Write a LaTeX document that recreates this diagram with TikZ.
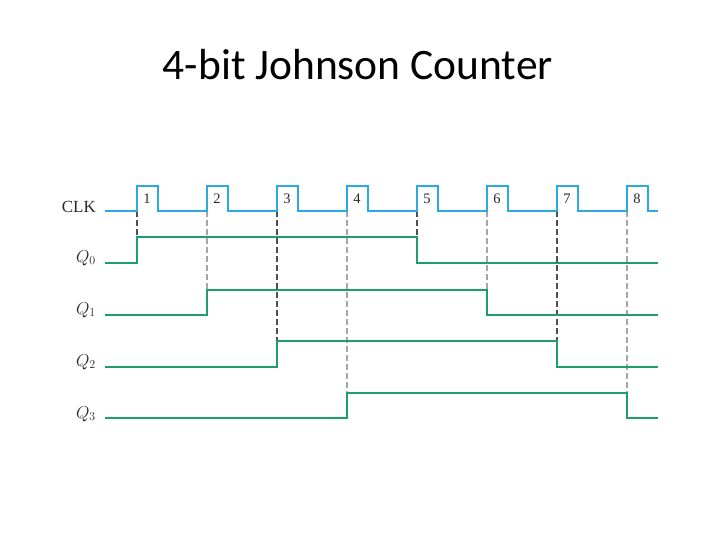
\documentclass[tikz,border=0pt]{standalone}
\usepackage{fontspec}
\setmainfont{Liberation Serif}
\newfontfamily\titlefont{Carlito}
\begin{document}
\begin{tikzpicture}[x=1pt,y=-1pt,
  clk/.style={draw={rgb,255:red,43;green,170;blue,224},line width=2.4pt,line join=miter},
  sig/.style={draw={rgb,255:red,30;green,158;blue,106},line width=2.4pt,line join=miter},
  darkdash/.style={draw={rgb,255:red,80;green,80;blue,80},line width=1.1pt,dash pattern=on 6pt off 3pt},
  lightdash/.style={draw={rgb,255:red,165;green,165;blue,165},line width=1.1pt,dash pattern=on 6pt off 3pt},
  lbl/.style={anchor=base east,inner sep=0pt,text={rgb,255:red,40;green,40;blue,40},font=\fontsize{17}{20}\selectfont},
  num/.style={anchor=base,inner sep=0pt,text={rgb,255:red,40;green,40;blue,40},font=\fontsize{14.5}{16}\selectfont}]
\useasboundingbox (0,0) rectangle (720,540);
\node[anchor=base,inner sep=0pt,font=\titlefont\fontsize{43.5}{48}\selectfont] (title) at (358,80) {4-bit Johnson Counter};
% labels
\node[lbl] (lclk) at (96,212) {CLK};
\node[lbl] (lq0) at (96,262) {$Q_0$};
\node[lbl] (lq1) at (96,314) {$Q_1$};
\node[lbl] (lq2) at (96,366) {$Q_2$};
\node[lbl] (lq3) at (96,418) {$Q_3$};
% edge coordinates
\foreach \i/\x in {1/137,2/207,3/277,4/347,5/417,6/487,7/557,8/627}{
  \coordinate (e\i) at (\x,211);
  \node[num] (n\i) at (\x+10,204) {\i};
}
% dashed guides
\draw[darkdash] (e1) -- (137,237);
\draw[lightdash] (e2) -- (207,290);
\draw[darkdash] (e3) -- (277,341);
\draw[lightdash] (e4) -- (347,393);
\draw[darkdash] (e5) -- (417,237);
\draw[lightdash] (e6) -- (487,290);
\draw[darkdash] (e7) -- (557,341);
\draw[lightdash] (e8) -- (627,393);
% clock
\draw[clk] (105,211)
  \foreach \x in {137,207,277,347,417,487,557,627}{ -- (\x,211) -- (\x,186) -- (\x+21,186) -- (\x+21,211)} -- (658,211);
% Q0
\draw[sig] (105,263) -- (137,263) -- (137,237) -- (417,237) -- (417,263) -- (658,263);
% Q1
\draw[sig] (105,315) -- (207,315) -- (207,290) -- (487,290) -- (487,315) -- (658,315);
% Q2
\draw[sig] (105,367) -- (277,367) -- (277,341) -- (557,341) -- (557,367) -- (658,367);
% Q3
\draw[sig] (105,418) -- (347,418) -- (347,393) -- (627,393) -- (627,418) -- (658,418);
\end{tikzpicture}
\end{document}
